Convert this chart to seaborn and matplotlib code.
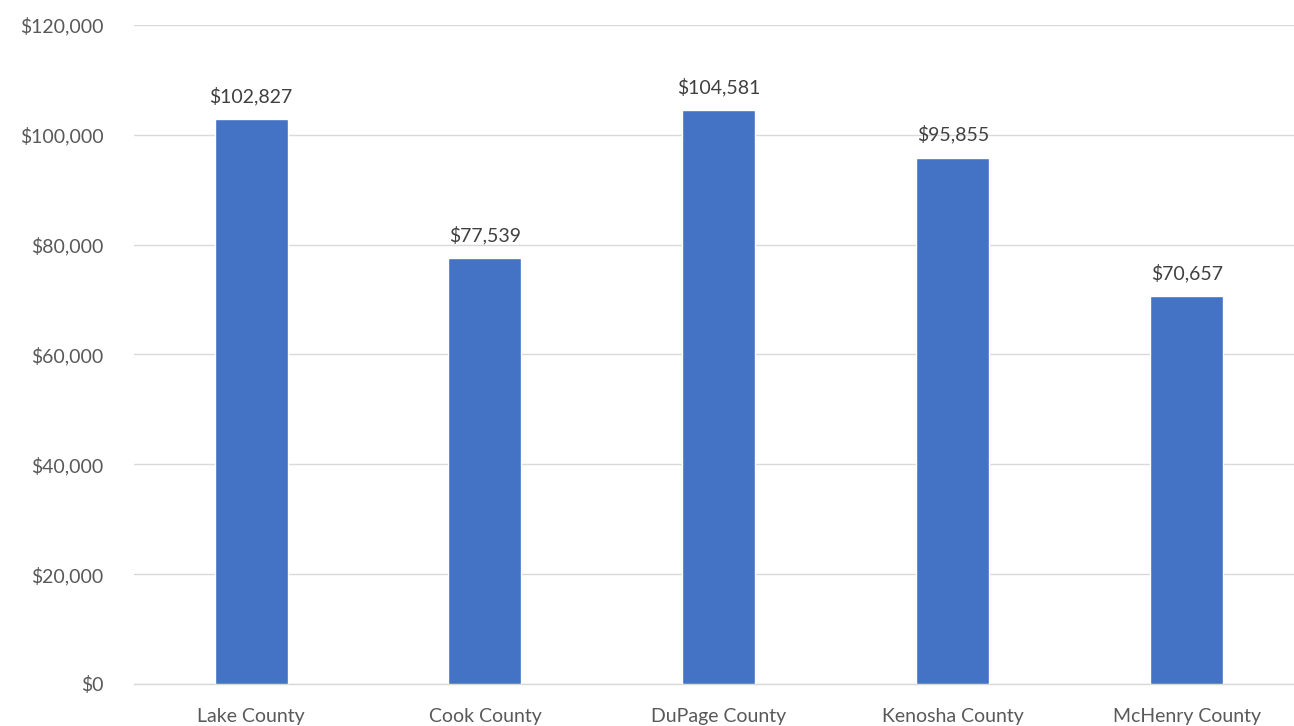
import matplotlib
matplotlib.use("Agg")
import matplotlib.pyplot as plt
import matplotlib.ticker as mticker
import seaborn as sns
import pandas as pd

counties = ["Lake County", "Cook County", "DuPage County", "Kenosha County", "McHenry County"]
median_income = [102827, 77539, 104581, 95855, 70657]
y_ticks = [0, 20000, 40000, 60000, 80000, 100000, 120000]

df = pd.DataFrame({"county": counties, "income": median_income})

sns.set_theme(style="white")
plt.rcParams["font.family"] = ["Lato", "DejaVu Sans"]

fig = plt.figure(figsize=(12.94, 7.26), dpi=100)
ax = fig.add_axes([0.1036, 0.0579, 0.904, 0.9077])

sns.barplot(data=df, x="county", y="income", color="#4472C4", width=0.312,
            saturation=1, ax=ax, zorder=3)

ax.set_ylim(0, 120000)
ax.set_xlim(-0.5, len(counties) - 0.5)
ax.set_yticks(y_ticks)
ax.yaxis.set_major_formatter(mticker.FuncFormatter(lambda v, p: f"${v:,.0f}"))
ax.grid(axis="y", color="#D9D9D9", linewidth=1, zorder=0)
ax.set_xlabel("")
ax.set_ylabel("")
for side in ["top", "right", "left"]:
    ax.spines[side].set_visible(False)
ax.spines["bottom"].set_color("#D9D9D9")
ax.spines["bottom"].set_linewidth(1)
ax.tick_params(axis="both", length=0, labelsize=14, colors="#595959")
ax.tick_params(axis="y", pad=22)
ax.tick_params(axis="x", pad=17)

for i, v in enumerate(median_income):
    ax.text(i, v + 2500, f"${v:,}", ha="center", va="bottom", fontsize=14, color="#404040")

fig.savefig("out.png", dpi=100)
